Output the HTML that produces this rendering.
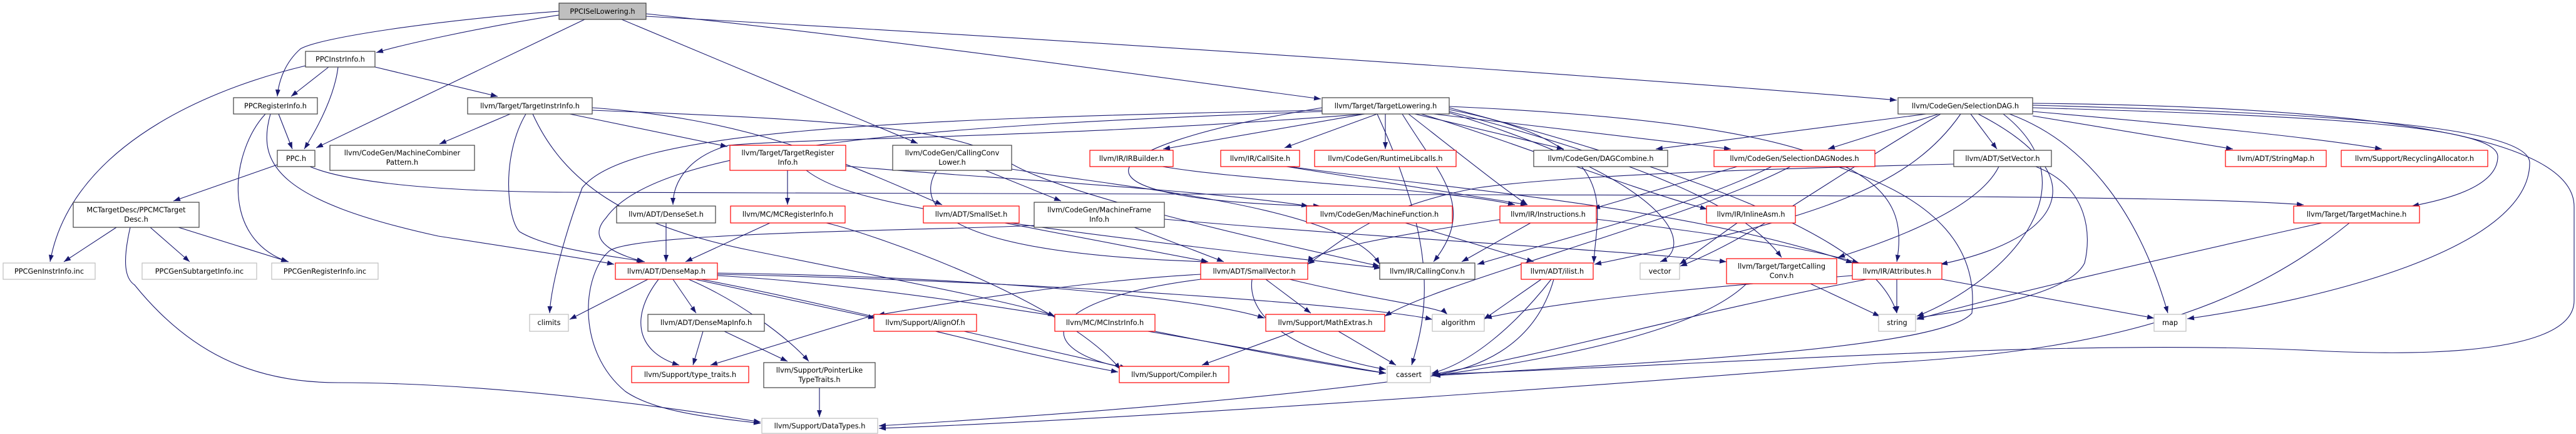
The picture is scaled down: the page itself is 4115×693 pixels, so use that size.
<!DOCTYPE html>
<html><head><meta charset="utf-8"><style>
html,body{margin:0;padding:0;background:#fff;}
svg{display:block;}
text{font-family:"DejaVu Sans","Liberation Sans",sans-serif;font-size:11.3px;fill:#000;text-anchor:middle;}
.e{fill:none;stroke:#191970;stroke-width:1.1;marker-end:url(#a);}
.b{fill:#fff;stroke:#404040;stroke-width:1.2;}
.r{fill:#fff;stroke:#ff0000;stroke-width:1.2;}
.g{fill:#fff;stroke:#bfbfbf;stroke-width:1.2;}
</style></head><body>
<svg width="4115" height="693" viewBox="0 0 4115 693" xmlns="http://www.w3.org/2000/svg">
<defs><marker id="a" markerUnits="userSpaceOnUse" markerWidth="12" markerHeight="10" refX="11" refY="4" orient="auto"><path d="M0,0 L11,4 L0,8 z" fill="#191970"/></marker></defs>
<g>
<path class="e" d="M893,24 C760,45 640,72 601,84"/>
<path class="e" d="M893,18 C700,32 510,60 480,78 C455,100 445,130 443,154"/>
<path class="e" d="M934,31 L505,236"/>
<path class="e" d="M1032,22 C1400,60 1900,130 2110,158"/>
<path class="e" d="M1032,26 C2000,80 2800,140 3030,160"/>
<path class="e" d="M993,31 L1466,229"/>
<path class="e" d="M525,107 L465,154"/>
<path class="e" d="M540,107 C535,150 510,200 486,238"/>
<path class="e" d="M488,105 C300,150 110,250 80,418"/>
<path class="e" d="M599,107 L795,154"/>
<path class="e" d="M445,182 L467,238"/>
<path class="e" d="M424,182 C370,240 350,380 460,418"/>
<path class="e" d="M432,182 C410,260 440,320 700,377 C850,400 940,414 981,422"/>
<path class="e" d="M443,263 L277,321"/>
<path class="e" d="M495,266 C540,285 650,305 900,307 L1900,310 C3000,312 3500,313 3680,327"/>
<path class="e" d="M186,363 L102,418"/>
<path class="e" d="M240,363 L303,418"/>
<path class="e" d="M285,363 L461,418"/>
<path class="e" d="M208,363 C195,420 200,445 215,455 C300,560 400,611 540,611 C800,611 1100,655 1215,674"/>
<path class="e" d="M815,182 L702,230"/>
<path class="e" d="M840,182 C800,250 810,350 830,370 C880,400 990,410 1030,418"/>
<path class="e" d="M910,182 L1162,234"/>
<path class="e" d="M851,182 C900,290 1000,360 1200,400 C1500,460 1650,490 1685,505"/>
<path class="e" d="M946,172 C1200,190 1350,260 1505,327"/>
<path class="e" d="M946,176 C1300,190 1500,200 1600,250 C1650,300 2000,380 2204,425"/>
<path class="e" d="M1258,272 L1258,327"/>
<path class="e" d="M1288,272 C1350,320 1500,350 2206,428"/>
<path class="e" d="M1351,265 C1500,280 1900,300 2090,329"/>
<path class="e" d="M1064,356 L1064,418"/>
<path class="e" d="M1230,356 L1095,418"/>
<path class="e" d="M1320,356 C1400,375 1700,480 1790,590"/>
<path class="e" d="M1652,360 C1500,368 1000,370 972,402 C930,440 920,560 999,625 C1050,660 1150,668 1215,676"/>
<path class="e" d="M1035,446 L910,510"/>
<path class="e" d="M1075,446 L1112,500"/>
<path class="e" d="M1052,446 C1010,500 1010,560 1085,583"/>
<path class="e" d="M1100,446 C1180,480 1260,540 1292,577"/>
<path class="e" d="M1110,446 L1398,508"/>
<path class="e" d="M1146,436 C1500,440 1900,470 2020,508"/>
<path class="e" d="M1120,446 C1400,500 1600,560 1786,594"/>
<path class="e" d="M1146,440 C1500,460 2000,560 2214,596"/>
<path class="e" d="M1146,438 C1700,450 2200,490 2288,510"/>
<path class="e" d="M1123,529 L1107,583"/>
<path class="e" d="M1157,529 L1258,577"/>
<path class="e" d="M1309,619 L1309,666"/>
<path class="e" d="M1400,502 L1135,583"/>
<path class="e" d="M1540,529 L1800,588"/>
<path class="e" d="M1845,529 C1950,550 2100,580 2214,596"/>
<path class="e" d="M2068,529 L1920,583"/>
<path class="e" d="M2138,529 L2230,583"/>
<path class="e" d="M1918,438 C1700,450 1450,495 1402,503"/>
<path class="e" d="M2022,446 L2094,500"/>
<path class="e" d="M1918,446 C1650,480 1650,560 1800,588"/>
<path class="e" d="M2000,446 C1990,520 2100,570 2214,590"/>
<path class="e" d="M2060,446 C2200,480 2300,490 2312,502"/>
<path class="e" d="M1496,272 C1456,339 1534,406 1930,418"/>
<path class="e" d="M1574,272 L1695,321"/>
<path class="e" d="M1616,270 C1800,300 2150,330 2204,422"/>
<path class="e" d="M1812,363 L1955,418"/>
<path class="e" d="M1860,350 C2200,380 2600,400 2758,418"/>
<path class="e" d="M1605,356 L1930,418"/>
<path class="e" d="M1857,266 C2000,290 2300,300 2420,327"/>
<path class="e" d="M2055,266 L2440,327"/>
<path class="e" d="M2060,266 C2300,300 2700,330 2960,420"/>
<path class="e" d="M2213,182 L2213,238"/>
<path class="e" d="M2260,182 L2498,238"/>
<path class="e" d="M2290,182 L2765,238"/>
<path class="e" d="M2180,182 L1858,238"/>
<path class="e" d="M2200,182 L2052,236"/>
<path class="e" d="M2250,182 C2350,260 2400,300 2440,327"/>
<path class="e" d="M2270,182 C2400,220 2600,300 2727,334"/>
<path class="e" d="M2112,172 C1700,240 1700,320 2109,329"/>
<path class="e" d="M2240,182 C2300,280 2360,330 2290,418"/>
<path class="e" d="M2315,175 C2600,230 2550,330 2546,420"/>
<path class="e" d="M2315,170 C3000,200 3050,300 3030,418"/>
<path class="e" d="M2315,178 C2700,280 2800,350 2846,411"/>
<path class="e" d="M2315,172 C2800,300 3000,400 3030,500"/>
<path class="e" d="M2180,182 C1700,220 1300,220 1164,232 C1100,250 1075,290 1075,327"/>
<path class="e" d="M2112,178 C1500,200 1050,230 968,348 C930,390 1000,410 1028,418"/>
<path class="e" d="M2112,176 C1400,190 1000,210 930,300 C900,380 880,460 878,500"/>
<path class="e" d="M2200,182 C2300,400 2280,500 2255,583"/>
<path class="e" d="M2315,180 C2700,300 2700,400 2652,418"/>
<path class="e" d="M3097,182 L2920,238"/>
<path class="e" d="M3148,182 L3190,238"/>
<path class="e" d="M3247,185 L3567,238"/>
<path class="e" d="M3247,178 C3500,200 3700,220 3805,238"/>
<path class="e" d="M3247,172 C3700,185 3990,200 3990,250 C3990,300 3900,320 3853,329"/>
<path class="e" d="M3247,168 C3700,180 4041,200 4041,260 C4041,400 3700,480 3494,509"/>
<path class="e" d="M3247,165 C3800,170 4112,220 4112,330 L4112,480 C4112,560 3900,570 3700,560 C3300,540 2800,580 2287,598"/>
<path class="e" d="M3077,182 L2645,238"/>
<path class="e" d="M3210,182 C3340,230 3420,350 3463,500"/>
<path class="e" d="M3132,182 C3050,300 2900,350 2547,422"/>
<path class="e" d="M3100,182 C2900,300 2800,380 2684,425"/>
<path class="e" d="M3160,182 C3350,280 3300,380 3100,422"/>
<path class="e" d="M3200,182 C3350,300 3200,450 3062,505"/>
<path class="e" d="M3121,262 C2800,270 2500,280 2360,300 C2200,330 2150,380 2089,422"/>
<path class="e" d="M3193,266 C3157,339 3000,390 2936,411"/>
<path class="e" d="M3252,266 C3340,300 3340,380 3330,420 C3300,480 3100,500 3062,508"/>
<path class="e" d="M3030,446 L3030,500"/>
<path class="e" d="M3102,446 L3441,508"/>
<path class="e" d="M2982,446 C2700,500 2500,560 2287,598"/>
<path class="e" d="M2960,440 C2700,460 2500,480 2372,508"/>
<path class="e" d="M2892,453 L3003,505"/>
<path class="e" d="M2790,453 C2700,540 2400,620 1404,680"/>
<path class="e" d="M3753,356 C3600,480 3400,560 3000,580 C2500,620 1800,670 1404,684"/>
<path class="e" d="M3709,356 C3500,403 3200,470 3062,510"/>
<path class="e" d="M2775,356 L2683,422"/>
<path class="e" d="M2445,356 L2335,418"/>
<path class="e" d="M2400,350 C2200,380 2100,400 2089,420"/>
<path class="e" d="M2550,350 C2800,380 2900,400 2970,420"/>
<path class="e" d="M2245,356 L2450,418"/>
<path class="e" d="M2462,446 L2370,510"/>
<path class="e" d="M2478,446 C2420,520 2350,580 2287,596"/>
<path class="e" d="M2482,446 C2450,560 2350,590 2287,600"/>
<path class="e" d="M2775,266 L2545,333"/>
<path class="e" d="M2935,266 C3100,320 3160,400 3150,500 C3100,560 2600,580 2290,600"/>
<path class="e" d="M2830,266 C2700,330 2500,380 2360,422"/>
<path class="e" d="M2860,266 C2700,350 2300,450 2212,505"/>
</g>
<g>
<rect x="893" y="5" width="139" height="26" fill="#bfbfbf" stroke="#404040" stroke-width="1.2"/><text x="962.5" y="22">PPCISelLowering.h</text>
<rect class="b" x="488" y="82" width="111" height="25"/><text x="543.5" y="98.5">PPCInstrInfo.h</text>
<rect class="b" x="373" y="156" width="134" height="26"/><text x="440" y="173">PPCRegisterInfo.h</text>
<rect class="b" x="443" y="240" width="60" height="26"/><text x="473" y="257">PPC.h</text>
<rect class="b" x="527" y="232" width="231" height="40"/><text x="642.5" y="248">llvm/CodeGen/MachineCombiner</text><text x="642.5" y="263">Pattern.h</text>
<rect class="b" x="117" y="323" width="201" height="40"/><text x="217.5" y="339">MCTargetDesc/PPCMCTarget</text><text x="217.5" y="354">Desc.h</text>
<rect class="g" x="5" y="420" width="147" height="26"/><text x="78.5" y="437">PPCGenInstrInfo.inc</text>
<rect class="g" x="227" y="420" width="183" height="26"/><text x="318.5" y="437">PPCGenSubtargetInfo.inc</text>
<rect class="g" x="434" y="420" width="170" height="26"/><text x="519" y="437">PPCGenRegisterInfo.inc</text>
<rect class="b" x="747" y="156" width="199" height="26"/><text x="846.5" y="173">llvm/Target/TargetInstrInfo.h</text>
<rect class="r" x="1166" y="232" width="185" height="40"/><text x="1258.5" y="248">llvm/Target/TargetRegister</text><text x="1258.5" y="263">Info.h</text>
<rect class="b" x="985" y="329" width="158" height="27"/><text x="1064" y="346">llvm/ADT/DenseSet.h</text>
<rect class="r" x="1167" y="329" width="183" height="27"/><text x="1258.5" y="346">llvm/MC/MCRegisterInfo.h</text>
<rect class="r" x="983" y="420" width="163" height="26"/><text x="1064.5" y="437">llvm/ADT/DenseMap.h</text>
<rect class="g" x="846" y="502" width="62" height="27"/><text x="877" y="519">climits</text>
<rect class="b" x="1035" y="502" width="186" height="27"/><text x="1128" y="519">llvm/ADT/DenseMapInfo.h</text>
<rect class="r" x="1009" y="585" width="187" height="26"/><text x="1102.5" y="602">llvm/Support/type_traits.h</text>
<rect class="b" x="1220" y="579" width="178" height="40"/><text x="1309" y="595">llvm/Support/PointerLike</text><text x="1309" y="610">TypeTraits.h</text>
<rect class="g" x="1217" y="668" width="185" height="24"/><text x="1309.5" y="684">llvm/Support/DataTypes.h</text>
<rect class="b" x="1426" y="232" width="190" height="40"/><text x="1521" y="248">llvm/CodeGen/CallingConv</text><text x="1521" y="263">Lower.h</text>
<rect class="r" x="1741" y="240" width="133" height="26"/><text x="1807.5" y="257">llvm/IR/IRBuilder.h</text>
<rect class="r" x="1950" y="240" width="126" height="26"/><text x="2013" y="257">llvm/IR/CallSite.h</text>
<rect class="r" x="1475" y="329" width="153" height="27"/><text x="1551.5" y="346">llvm/ADT/SmallSet.h</text>
<rect class="b" x="1652" y="323" width="208" height="40"/><text x="1756" y="339">llvm/CodeGen/MachineFrame</text><text x="1756" y="354">Info.h</text>
<rect class="r" x="1918" y="420" width="171" height="26"/><text x="2003.5" y="437">llvm/ADT/SmallVector.h</text>
<rect class="r" x="1396" y="502" width="164" height="27"/><text x="1478" y="519">llvm/Support/AlignOf.h</text>
<rect class="r" x="1685" y="502" width="160" height="27"/><text x="1765" y="519">llvm/MC/MCInstrInfo.h</text>
<rect class="r" x="2022" y="502" width="190" height="27"/><text x="2117" y="519">llvm/Support/MathExtras.h</text>
<rect class="r" x="1788" y="585" width="175" height="26"/><text x="1875.5" y="602">llvm/Support/Compiler.h</text>
<rect class="b" x="2112" y="156" width="203" height="26"/><text x="2213.5" y="173">llvm/Target/TargetLowering.h</text>
<rect class="r" x="2100" y="240" width="226" height="26"/><text x="2213" y="257">llvm/CodeGen/RuntimeLibcalls.h</text>
<rect class="b" x="2450" y="240" width="214" height="26"/><text x="2557" y="257">llvm/CodeGen/DAGCombine.h</text>
<rect class="r" x="2738" y="240" width="257" height="26"/><text x="2866.5" y="257">llvm/CodeGen/SelectionDAGNodes.h</text>
<rect class="r" x="2087" y="329" width="233" height="27"/><text x="2203.5" y="346">llvm/CodeGen/MachineFunction.h</text>
<rect class="r" x="2396" y="329" width="154" height="27"/><text x="2473" y="346">llvm/IR/Instructions.h</text>
<rect class="r" x="2726" y="329" width="142" height="27"/><text x="2797" y="346">llvm/IR/InlineAsm.h</text>
<rect class="b" x="2204" y="420" width="152" height="26"/><text x="2280" y="437">llvm/IR/CallingConv.h</text>
<rect class="r" x="2430" y="420" width="115" height="26"/><text x="2487.5" y="437">llvm/ADT/ilist.h</text>
<rect class="g" x="2620" y="420" width="63" height="26"/><text x="2651.5" y="437">vector</text>
<rect class="r" x="2758" y="413" width="176" height="40"/><text x="2846" y="429">llvm/Target/TargetCalling</text><text x="2846" y="444">Conv.h</text>
<rect class="g" x="2288" y="502" width="83" height="27"/><text x="2329.5" y="519">algorithm</text>
<rect class="g" x="2216" y="585" width="69" height="26"/><text x="2250.5" y="602">cassert</text>
<rect class="b" x="3032" y="156" width="215" height="26"/><text x="3139.5" y="173">llvm/CodeGen/SelectionDAG.h</text>
<rect class="b" x="3121" y="240" width="156" height="26"/><text x="3199" y="257">llvm/ADT/SetVector.h</text>
<rect class="r" x="2959" y="420" width="143" height="26"/><text x="3030.5" y="437">llvm/IR/Attributes.h</text>
<rect class="g" x="3001" y="502" width="59" height="27"/><text x="3030.5" y="519">string</text>
<rect class="g" x="3441" y="502" width="51" height="27"/><text x="3466.5" y="519">map</text>
<rect class="r" x="3555" y="240" width="161" height="26"/><text x="3635.5" y="257">llvm/ADT/StringMap.h</text>
<rect class="r" x="3740" y="240" width="234" height="26"/><text x="3857" y="257">llvm/Support/RecyclingAllocator.h</text>
<rect class="r" x="3664" y="329" width="201" height="27"/><text x="3764.5" y="346">llvm/Target/TargetMachine.h</text>
</g>
</svg>
</body></html>
